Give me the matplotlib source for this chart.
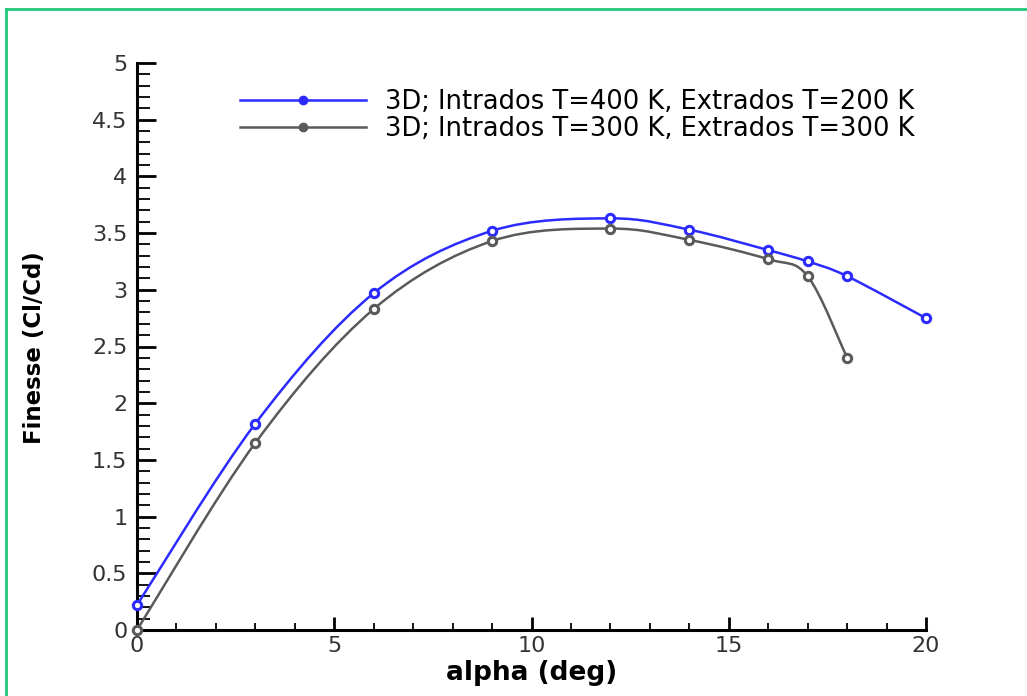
import numpy as np
import matplotlib
matplotlib.use('Agg')
import matplotlib.pyplot as plt
from matplotlib.path import Path
from matplotlib.patches import PathPatch
from matplotlib.lines import Line2D
from matplotlib.ticker import MultipleLocator, FormatStrFormatter

# donnees
alpha_400 = [0, 3, 6, 9, 12, 14, 16, 17, 18, 20]
fin_400 = [0.22, 1.82, 2.97, 3.52, 3.63, 3.53, 3.35, 3.25, 3.12, 2.75]
alpha_300 = [0, 3, 6, 9, 12, 14, 16, 17, 18]
fin_300 = [0.0, 1.65, 2.83, 3.43, 3.54, 3.44, 3.27, 3.12, 2.40]
etiquettes = ['3D; Intrados T=400 K, Extrados T=200 K',
              '3D; Intrados T=300 K, Extrados T=300 K']
couleurs = ['#2b2bff', '#5a5a5a']


def courbe_lisse(x, y):
    # spline de Catmull-Rom tracee comme chemin de Bezier
    x = np.asarray(x, float); y = np.asarray(y, float)
    P = np.column_stack([x, y])
    Q = np.vstack([P[0], P, P[-1]])
    verts = [P[0]]; codes = [Path.MOVETO]
    for i in range(len(P) - 1):
        p0, p1, p2, p3 = Q[i], Q[i+1], Q[i+2], Q[i+3]
        verts += [p1 + (p2 - p0)/6, p2 - (p3 - p1)/6, p2]
        codes += [Path.CURVE4]*3
    return Path(verts, codes)


fig = plt.figure(figsize=(10.27, 6.96), dpi=100)
ax = fig.add_axes([137/1027, 1-630/696, (926-137)/1027, (630-63)/696])

series = [(alpha_400, fin_400), (alpha_300, fin_300)]
for (xs, ys), c in zip(series, couleurs):
    ax.add_patch(PathPatch(courbe_lisse(xs, ys), fc='none', ec=c, lw=1.8, clip_on=False, zorder=3))
    ax.plot(xs, ys, ls='none', marker='o', ms=6, mfc='white', mec=c, mew=2.2, clip_on=False, zorder=4)

ax.set_xlim(0, 20)
ax.set_ylim(0, 5)
ax.spines['top'].set_visible(False)
ax.spines['right'].set_visible(False)
ax.spines['left'].set_linewidth(2.2)
ax.spines['bottom'].set_linewidth(2.2)
ax.xaxis.set_major_locator(MultipleLocator(5))
ax.xaxis.set_minor_locator(MultipleLocator(1))
ax.yaxis.set_major_locator(MultipleLocator(0.5))
ax.yaxis.set_minor_locator(MultipleLocator(0.1))
ax.xaxis.set_major_formatter(FormatStrFormatter('%g'))
ax.yaxis.set_major_formatter(FormatStrFormatter('%g'))
ax.tick_params(axis='x', which='major', direction='in', length=9.5, width=2, pad=4, labelsize=16, labelcolor='#333333')
ax.tick_params(axis='x', which='minor', direction='in', length=5, width=1.3)
ax.tick_params(axis='y', which='major', direction='in', length=13.5, width=2, pad=7, labelsize=16, labelcolor='#333333')
ax.tick_params(axis='y', which='minor', direction='in', length=9, width=1.3)

fig.text(532/1027, 1-673/696, 'alpha (deg)', fontsize=19, fontweight='bold', ha='center', va='center')
fig.text(35/1027, 1-348/696, 'Finesse (Cl/Cd)', fontsize=16.5, fontweight='bold', ha='center', va='center', rotation=90)

poignees = [Line2D([], [], color=c, lw=1.8, marker='o', ms=6, mfc=c, mec=c) for c in couleurs]
leg = fig.legend(poignees, etiquettes, loc='upper left', bbox_to_anchor=(240/1027, 1-89/696),
                 frameon=False, fontsize=18.5, handlelength=4.9, handletextpad=0.75,
                 labelspacing=0.02, borderpad=0, borderaxespad=0)

# cadre vert
vert = '#22c87a'
fig.add_artist(Line2D([6/1027, 6/1027], [-0.1, 1-9/696], color=vert, lw=2, transform=fig.transFigure))
fig.add_artist(Line2D([6/1027, 1.1], [1-9/696, 1-9/696], color=vert, lw=2, transform=fig.transFigure))

fig.savefig('out.png', dpi=100)
